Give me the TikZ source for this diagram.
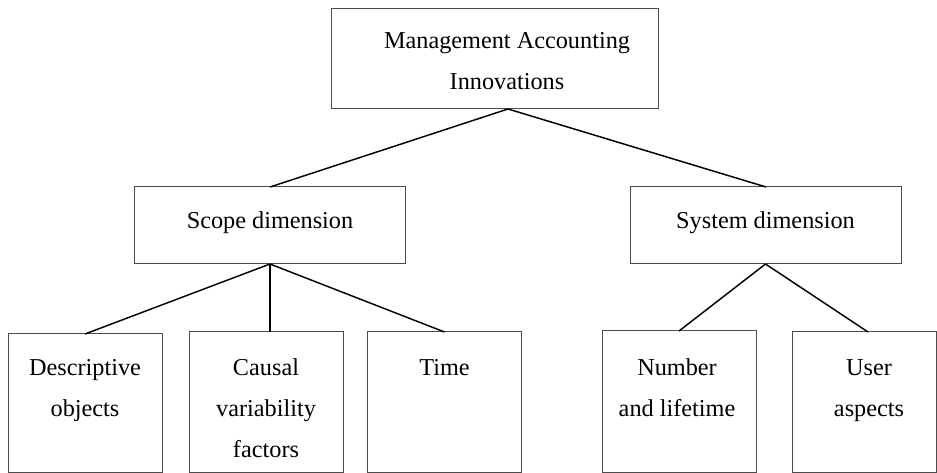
\documentclass[tikz,border=0pt]{standalone}
\usepackage{fontspec}
\setmainfont{Liberation Serif}
\usetikzlibrary{calc}
\begin{document}
\begin{tikzpicture}[x=0.75pt,y=-0.75pt,
  box/.style={draw=black!70,line width=0.75pt,rectangle,inner sep=0pt,outer sep=0pt},
  % base anchor of a multi-line label sits on its last line
  lbl/.style={inner sep=0pt,anchor=base,align=center,
    font=\fontsize{18.2pt}{30.75pt}\selectfont},
  link/.style={draw=black,line width=1.1pt}]
\useasboundingbox (0,0) rectangle (937,473);

% boxes
\node[box,minimum width=245.25pt,minimum height=75pt]   (root)   at (494.5,59) {};
\node[box,minimum width=203.25pt,minimum height=57.75pt] (scope)  at (269.5,225.5) {};
\node[box,minimum width=203.25pt,minimum height=57.75pt] (system) at (765.5,225.5) {};
\node[box,minimum width=115.5pt,minimum height=103.5pt] (desc)   at (85,403) {};
\node[box,minimum width=115.5pt,minimum height=105pt]   (causal) at (266,402) {};
\node[box,minimum width=115.5pt,minimum height=105pt]   (time)   at (444.5,402) {};
\node[box,minimum width=115.5pt,minimum height=105.75pt] (number) at (679,401.5) {};
\node[box,minimum width=108pt,minimum height=105pt]     (user)   at (864,402) {};

% labels (positioned by the baseline of their last line)
\node[lbl] (troot)   at (507,90)  {Management Accounting\\Innovations};
\node[lbl] (tscope)  at (270,229) {Scope dimension};
\node[lbl] (tsystem) at (765.5,229) {System dimension};
\node[lbl] (tdesc)   at (85,416)  {Descriptive\\objects};
\node[lbl] (tcausal) at (266,457) {Causal\\variability\\factors};
\node[lbl] (ttime)   at (444.5,375) {Time};
\node[lbl] (tnumber) at (677,416) {Number\\and lifetime};
\node[lbl] (tuser)   at (869,416) {User\\aspects};

% branching points
\coordinate (jroot)  at ($(root.south)+(13.5,0)$);
\coordinate (jscope) at ($(scope.south)+(0.5,0)$);
\coordinate (juser)  at ($(user.north)+(4,0)$);

% connectors
\draw[link] (jroot) -- ($(scope.north)+(0.5,0)$);
\draw[link] (jroot) -- ($(system.north)+(0.5,0)$);
\draw[link] (jscope) -- (desc.north);
\draw[link] (jscope) -- (jscope |- causal.north);
\draw[link] (jscope) -- (time.north);
\draw[link] (system.south) -- (number.north);
\draw[link] (system.south) -- (juser);
\end{tikzpicture}
\end{document}
